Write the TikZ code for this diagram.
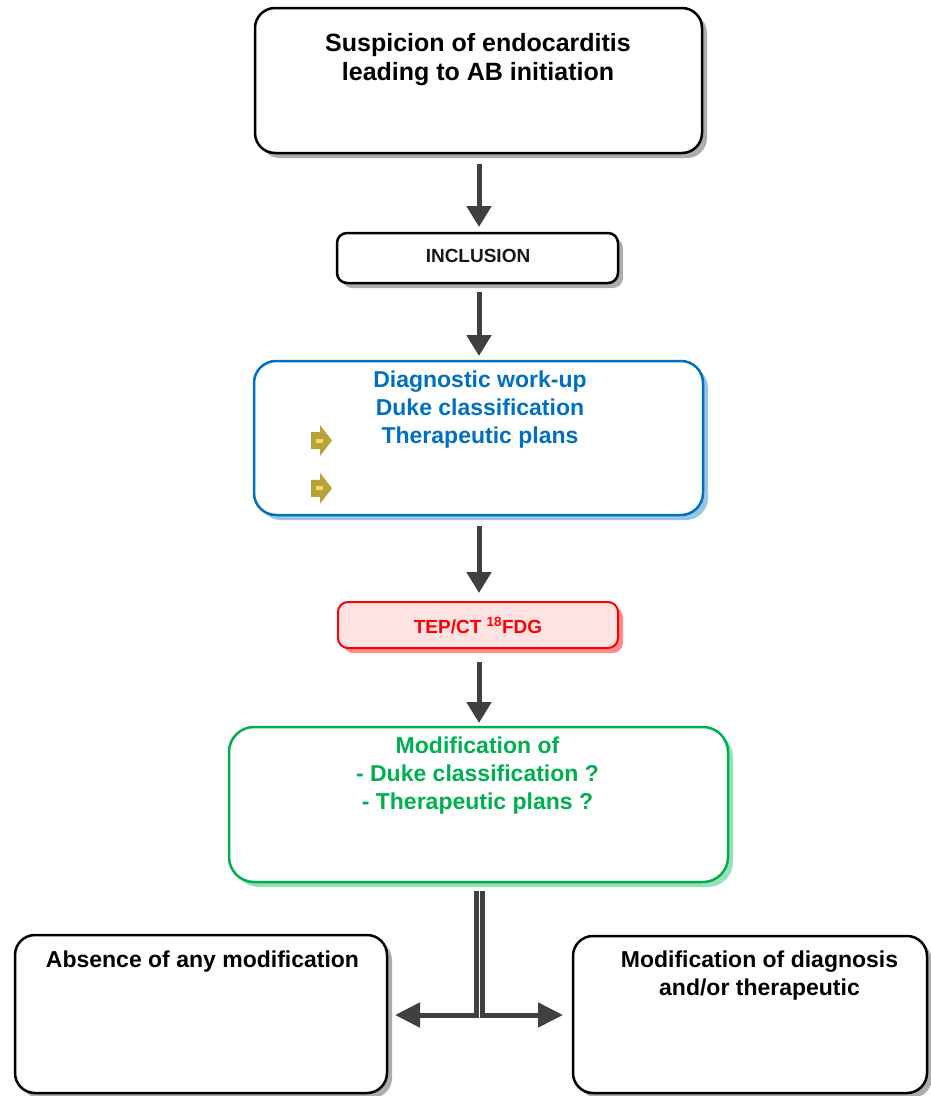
\documentclass[tikz,border=0pt]{standalone}
\usepackage{fontspec}
\setmainfont{Liberation Sans}
\usetikzlibrary{arrows.meta,shadows}
\definecolor{flowgray}{HTML}{404040}
\definecolor{myblue}{HTML}{0070C0}
\definecolor{mygreen}{HTML}{00B050}
\definecolor{myred}{HTML}{FF0000}
\definecolor{mypink}{HTML}{FFE3E3}
\definecolor{mygold}{HTML}{B8A33A}
\definecolor{myyellow}{HTML}{F5DC50}
\tikzset{
  basebox/.style={draw, line width=2.5pt, inner sep=0pt, outer sep=0pt},
  blackbox/.style={basebox, draw=black, fill=white, rounded corners=20pt,
    drop shadow={shadow xshift=5pt, shadow yshift=-5pt, fill=black!40, opacity=0.8}},
  smallbox/.style={basebox, draw=black, fill=white, rounded corners=10pt,
    drop shadow={shadow xshift=5pt, shadow yshift=-5pt, fill=black!40, opacity=0.8}},
  bluebox/.style={basebox, draw=myblue, fill=white, rounded corners=22pt,
    drop shadow={shadow xshift=5pt, shadow yshift=-5pt, fill=myblue!50, opacity=0.8}},
  redbox/.style={basebox, line width=2pt, draw=myred, fill=mypink, rounded corners=10pt,
    drop shadow={shadow xshift=5pt, shadow yshift=-5pt, fill=myred!55, opacity=0.8}},
  greenbox/.style={basebox, draw=mygreen, fill=white, rounded corners=25pt,
    drop shadow={shadow xshift=5pt, shadow yshift=-5pt, fill=mygreen!50, opacity=0.8}},
  bigtext/.style={font=\bfseries\fontsize{23}{28}\selectfont, align=center, inner sep=0pt, anchor=base},
  toptext/.style={font=\bfseries\fontsize{25}{29}\selectfont, align=center, inner sep=0pt, anchor=base},
  smalltext/.style={font=\bfseries\fontsize{19}{22}\selectfont, align=center, inner sep=0pt, anchor=base},
  flow/.style={draw=flowgray, line width=5pt, -{Triangle[width=24pt,length=21pt]}},
  goldarrow/.style={fill=mygold},
}
\begin{document}
\begin{tikzpicture}[x=1pt,y=-1pt]
\useasboundingbox (0,0) rectangle (930,1096);

% boxes
\node[blackbox, minimum width=447pt, minimum height=145pt] (top) at (478.5,80.5) {};
\node[smallbox, minimum width=281pt, minimum height=50pt] (incl) at (477.5,258) {};
\node[bluebox, minimum width=449pt, minimum height=154pt] (diag) at (478.5,438) {};
\node[redbox, minimum width=280pt, minimum height=46pt] (tep) at (478,625) {};
\node[greenbox, minimum width=499pt, minimum height=155pt] (modif) at (478.5,804.5) {};
\node[blackbox, minimum width=372pt, minimum height=158pt] (absence) at (201,1014) {};
\node[blackbox, minimum width=354pt, minimum height=157pt] (change) at (750,1014.5) {};

% texts (anchor=base is the baseline of the last line)
\node[toptext] (topT) at (478,80) {Suspicion of endocarditis\\leading to AB initiation};
\node[smalltext, text=black!90] (inclT) at (478,262) {INCLUSION};
\node[bigtext, text=myblue] (diagT) at (480,443) {Diagnostic work-up\\Duke classification\\Therapeutic plans};
\node[smalltext, text=myred] (tepT) at (478,633) {TEP/CT \textsuperscript{18}FDG};
\node[bigtext, text=mygreen] (modifT) at (477.5,809) {Modification of\\- Duke classification ?\\- Therapeutic plans ?};
\node[bigtext] (absenceT) at (202.5,967) {Absence of any modification};
\node[bigtext] (changeT) at (759.5,995) {Modification of diagnosis\\and/or therapeutic};

% gold bullet arrows
\foreach \cy in {440.5,488.3}{
  \fill[goldarrow] (311,\cy-8.5) -- (320,\cy-8.5) -- (320,\cy-15.5) -- (332,\cy) -- (320,\cy+15.5) -- (320,\cy+8.5) -- (311,\cy+8.5) -- cycle;
  \fill[myyellow] (316,\cy-2) rectangle (323,\cy+2);
}

% vertical flow arrows
\draw[flow] ([xshift=0.5pt,yshift=-10.7pt]top.south) -- ([xshift=1.5pt,yshift=6pt]incl.north);
\draw[flow] ([xshift=1.5pt,yshift=-9pt]incl.south) -- ([xshift=0.5pt,yshift=5pt]diag.north);
\draw[flow] ([xshift=0.5pt,yshift=-11pt]diag.south) -- ([xshift=1pt,yshift=9pt]tep.north);
\draw[flow] ([xshift=1pt,yshift=-14pt]tep.south) -- ([xshift=0.5pt,yshift=4pt]modif.north);

% split connector
\coordinate (splitL) at (476,1015);
\coordinate (splitR) at (482.5,1015);
\draw[flow, -{Triangle[width=24pt,length=25pt]}] ([xshift=-2.5pt,yshift=-9pt]modif.south) -- (splitL) -- ([xshift=8pt]absence.east |- splitL);
\draw[flow, -{Triangle[width=24pt,length=25pt]}] ([xshift=4pt,yshift=-9pt]modif.south) -- (splitR) -- ([xshift=-10pt]change.west |- splitR);
\end{tikzpicture}
\end{document}
